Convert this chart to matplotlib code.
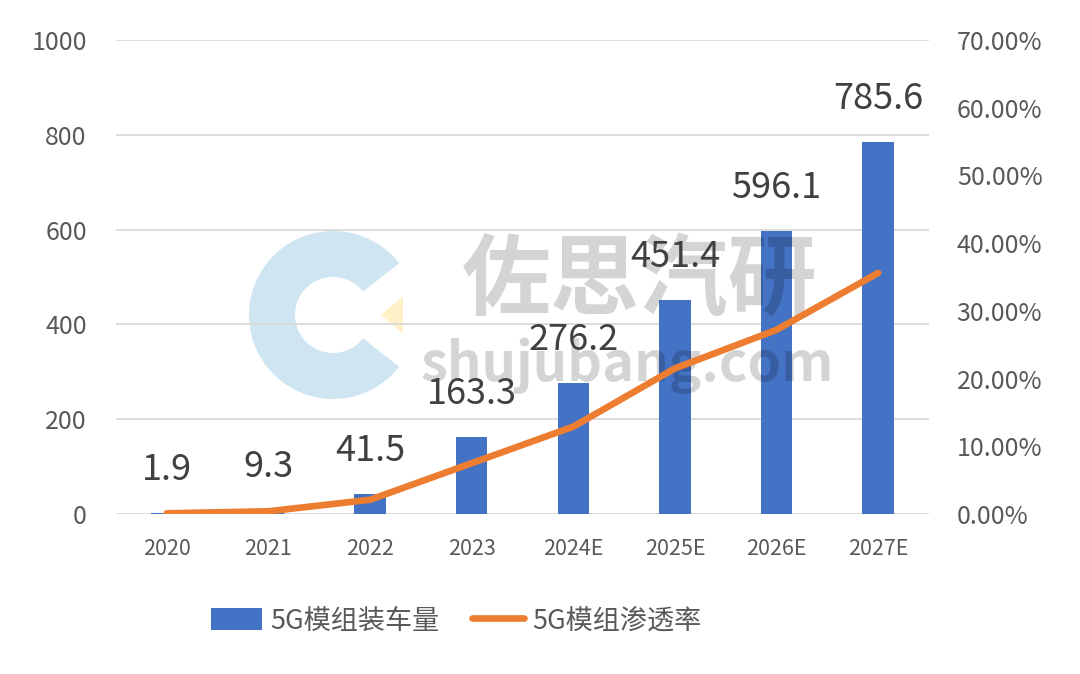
import matplotlib
matplotlib.use("Agg")
import matplotlib.pyplot as plt
from matplotlib.patches import Wedge, Polygon, Patch
from matplotlib.lines import Line2D
from matplotlib.ticker import FuncFormatter
import numpy as np

plt.rcParams['font.family'] = ['Noto Sans CJK SC', 'DejaVu Sans']

categories = ["2020", "2021", "2022", "2023", "2024E", "2025E", "2026E", "2027E"]
volume = [1.9, 9.3, 41.5, 163.3, 276.2, 451.4, 596.1, 785.6]
penetration = [0.1, 0.4, 2.1, 7.5, 12.9, 21.5, 27.2, 35.6]  # percent
bar_label = "5G模组装车量"
line_label = "5G模组渗透率"

BLUE = "#4472C4"
ORANGE = "#ED7D31"
GRID = "#D9D9D9"
TICK = "#595959"
LABEL = "#404040"

W, H = 1080, 674
fig = plt.figure(figsize=(W / 100, H / 100), dpi=100)

# background watermark logo
bg = fig.add_axes([0, 0, 1, 1], zorder=0)
bg.set_xlim(0, W)
bg.set_ylim(H, 0)
bg.axis("off")
bg.add_patch(Wedge((333, 315), 84, 38, 322, width=46, facecolor="#CFE6F2", edgecolor="none"))
bg.add_patch(Polygon([(403, 296), (403, 334), (381, 315)], closed=True,
                     facecolor="#FFF0C8", edgecolor="none"))

ax = fig.add_axes([116 / W, 1 - 514 / H, (929 - 116) / W, (514 - 40) / H], zorder=1)
ax.patch.set_alpha(0)
x = np.arange(len(categories))
ax.bar(x, volume, width=0.31, color=BLUE, zorder=2)
ax.set_ylim(0, 1000)
ax.set_xlim(-0.5, len(categories) - 0.5)
ax.set_yticks(np.arange(0, 1001, 200))
ax.yaxis.grid(True, color=GRID, linewidth=1.3)
ax.set_axisbelow(True)
for s in ax.spines.values():
    s.set_visible(False)
ax.tick_params(axis="both", length=0, colors=TICK)
ax.tick_params(axis="y", labelsize=18, pad=21)
ax.tick_params(axis="x", labelsize=15.5, pad=17)
ax.set_xticks(x)
ax.set_xticklabels(categories)

ax2 = ax.twinx()
ax2.set_zorder(3)
ax2.patch.set_alpha(0)
ax2.plot(x, penetration, color=ORANGE, linewidth=4.8, solid_capstyle="round",
         solid_joinstyle="round", zorder=3)
ax2.set_ylim(0, 70)
ax2.set_yticks(np.arange(0, 71, 10))
ax2.yaxis.set_major_formatter(FuncFormatter(lambda v, p: f"{v:.2f}%"))
for s in ax2.spines.values():
    s.set_visible(False)
ax2.tick_params(axis="y", length=0, colors=TICK, labelsize=18, pad=20)

for xi, v in zip(x, volume):
    ax2.annotate(f"{v}", xy=(xi, v), xycoords=ax.transData, xytext=(0, 31),
                 textcoords="offset points", ha="center", va="center",
                 fontsize=26, color=LABEL, zorder=6)

# watermark text (semi-transparent over bars)
fig.text(640 / W, 1 - 282 / H, "佐思汽研", fontsize=64, fontweight="bold",
         color="black", alpha=0.17, ha="center", va="center", zorder=2)
fig.text(627 / W, 1 - 366 / H, "shujubang.com", fontsize=39, fontweight="bold",
         color="black", alpha=0.17, ha="center", va="center", zorder=2)

# legend
handles = [Patch(facecolor=BLUE, edgecolor="none"),
           Line2D([0], [0], color=ORANGE, linewidth=4.8, solid_capstyle="round")]
leg = fig.legend(handles, [bar_label, line_label], loc="center",
                 bbox_to_anchor=(456 / W, 1 - 621 / H), ncol=2, frameon=False,
                 fontsize=19.5, handlelength=1.9, handleheight=0.85, handletextpad=0.3,
                 columnspacing=1.2, borderpad=0)
for t in leg.get_texts():
    t.set_color(TICK)

fig.savefig("out.png", dpi=100)
